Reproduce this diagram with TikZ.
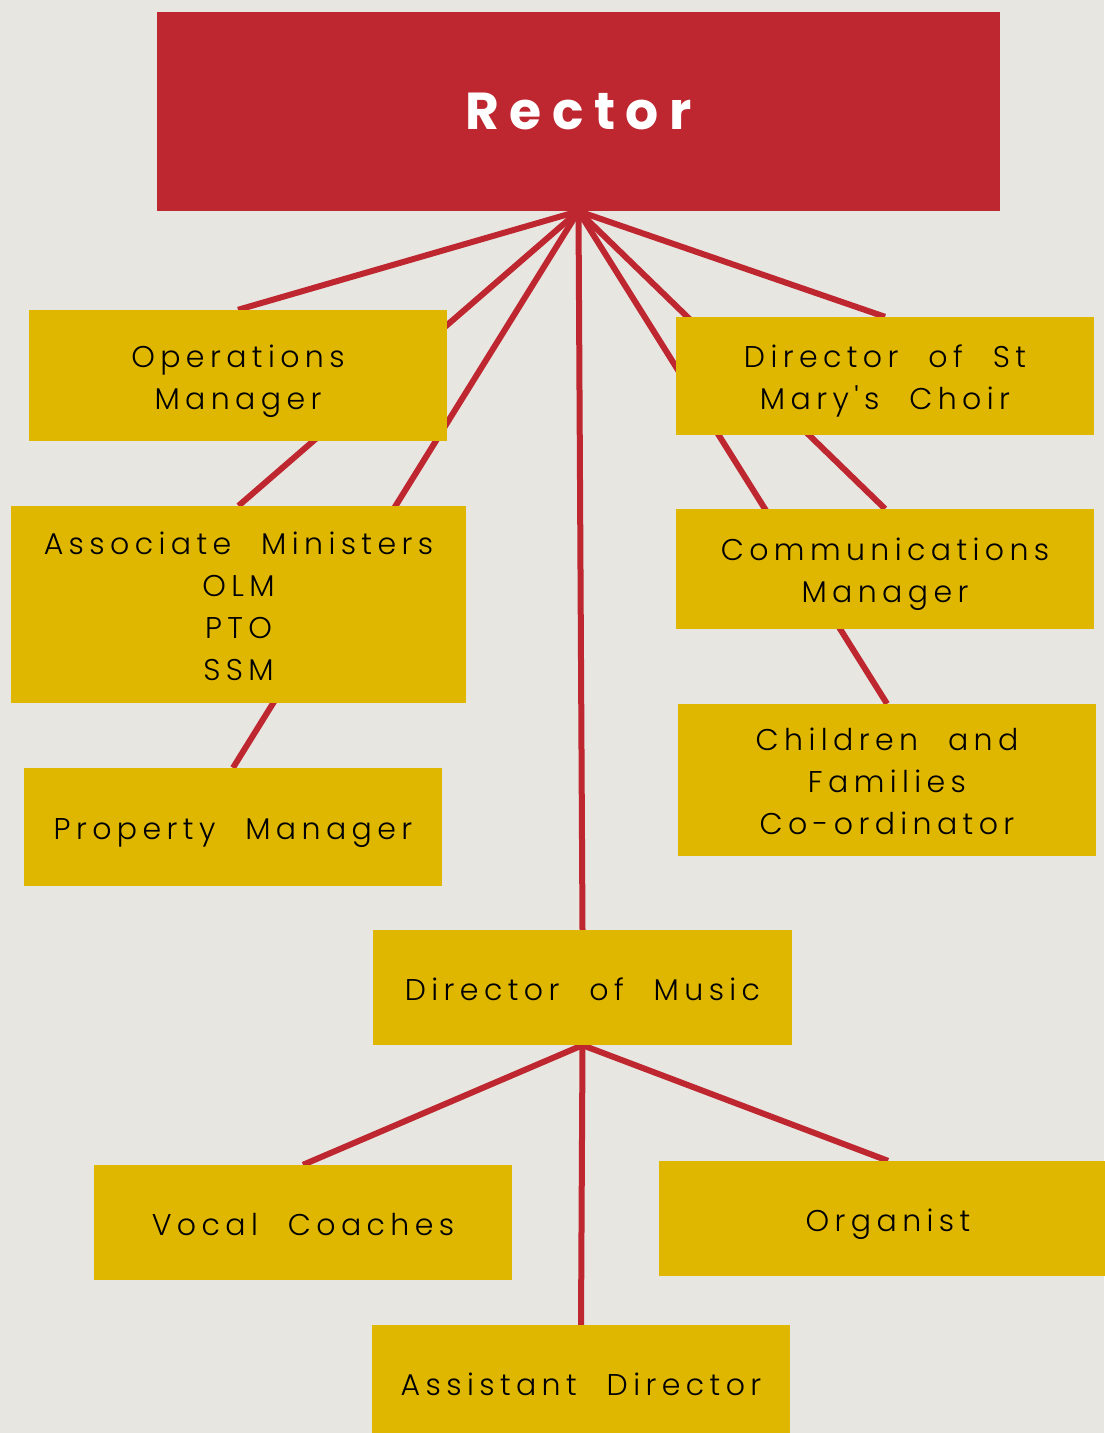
\documentclass[tikz,border=0pt]{standalone}
\usepackage{fontspec}
\IfFontExistsTF{Poppins Light}
  {\setmainfont{Poppins Light}[LetterSpace=18,WordSpace=2.2,Ligatures=TeXOff]}
  {\setmainfont{Poppins}[LetterSpace=18,WordSpace=2.2,Ligatures=TeXOff]}
\newfontfamily\rectorfont{Poppins}[LetterSpace=20]
\usetikzlibrary{backgrounds}
\pgfdeclarelayer{lines}
\pgfsetlayers{background,lines,main}
\definecolor{rectorred}{HTML}{BE2630}
\definecolor{postgold}{HTML}{E0B700}
\definecolor{paper}{HTML}{E8E6E1}
\tikzset{every picture/.style={x=1pt,y=-1pt,show background rectangle},background rectangle/.style={fill=paper},inner frame sep=0pt}
\tikzset{post/.style={fill=postgold,inner sep=0pt,minimum width=418pt,align=center,text height=30pt,text depth=5pt,font=\fontsize{30}{42}\selectfont},twolines/.style={text height=72pt},threelines/.style={text height=114pt},fourlines/.style={text height=156pt},link/.style={draw=rectorred,line width=6pt}}

\begin{document}
\begin{tikzpicture}
\useasboundingbox (0,0) rectangle (1104,1433);
\node (rector) [fill=rectorred, minimum width=843pt, minimum height=199pt, text=white, font=\rectorfont\bfseries\fontsize{52}{60}\selectfont] at (578.5,111.5) {Rector};
\node (ops) [post, twolines, minimum height=131pt] at (238,375.5) {Operations\\Manager};
\node (assoc) [post, fourlines, minimum width=455pt, minimum height=197pt] at (238.5,604.5) {Associate Ministers\\OLM\\PTO\\SSM};
\node (property) [post, minimum height=118pt] at (233,827) {Property Manager};
\node (choir) [post, twolines, minimum height=118pt] at (885,376) {Director of St\\Mary's Choir};
\node (comms) [post, twolines, minimum height=120pt] at (885,569) {Communications\\Manager};
\node (children) [post, threelines, minimum height=152pt] at (887,780) {Children and\\Families\\Co-ordinator};
\node (music) [post, minimum width=419pt, minimum height=115pt] at (582.5,987.5) {Director of Music};
\node (vocal) [post, minimum height=115pt] at (303,1222.5) {Vocal Coaches};
\node (organist) [post, minimum width=458pt, minimum height=115pt] at (888,1218.5) {Organist};
\node (assistant) [post, minimum height=115pt] at (581,1382.5) {Assistant Director};

\begin{pgfonlayer}{lines}
\draw[link] (rector.south) -- (ops.north);
\draw[link] (rector.south) -- (assoc.north);
\draw[link] (rector.south) -- (property.north);
\draw[link] (rector.south) -- (music.north);
\draw[link] (rector.south) -- (choir.north);
\draw[link] (rector.south) -- (comms.north);
\draw[link] (rector.south) -- (children.north);
\draw[link] (music.south) -- (vocal.north);
\draw[link] (music.south) -- (assistant.north);
\draw[link] (music.south) -- (organist.north);
\end{pgfonlayer}
\end{tikzpicture}
\end{document}
